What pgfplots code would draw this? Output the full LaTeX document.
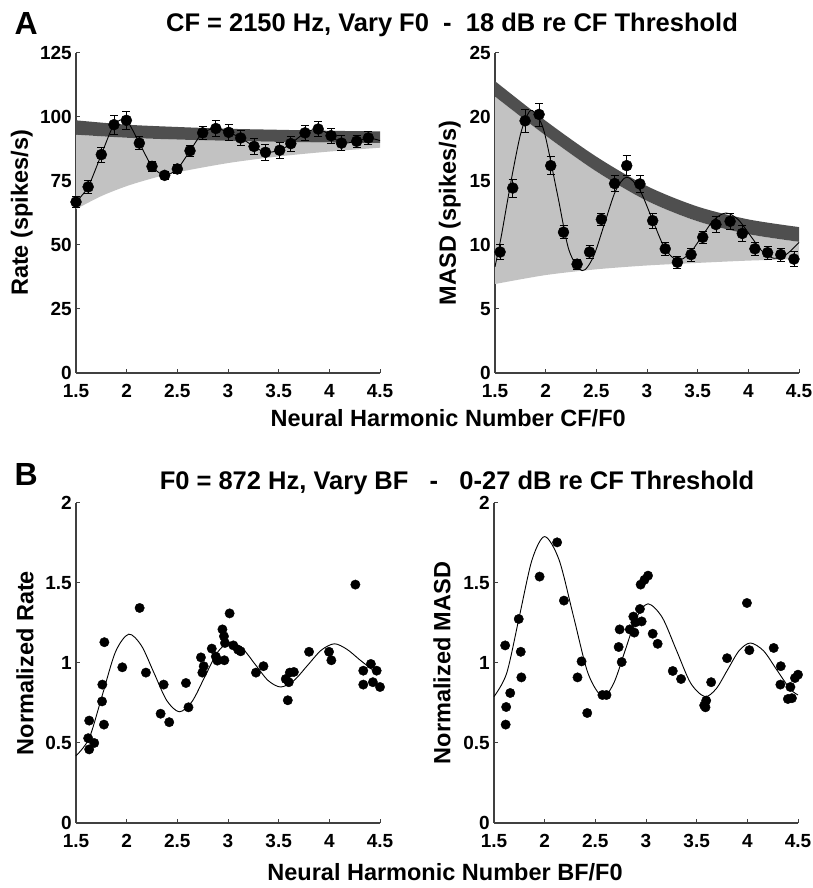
\documentclass[border=0pt]{standalone}
\usepackage{fontspec}
\setmainfont{Liberation Sans}
\usepackage{pgfplots}
\pgfplotsset{compat=1.18}
\usepgfplotslibrary{fillbetween}

\definecolor{banddark}{gray}{0.31}
\definecolor{bandlight}{gray}{0.76}
\definecolor{axisgray}{gray}{0.25}

\newcommand\tickfont{\fontsize{19}{22}\selectfont\bfseries}
\newcommand\labfont{\fontsize{23.5}{28}\selectfont\bfseries}
\newcommand\titfont{\fontsize{25.5}{30}\selectfont\bfseries}
\newcommand\panfont{\fontsize{32}{38}\selectfont\bfseries}

\pgfplotsset{
  panel/.style={
    scale only axis, width=304pt, height=320pt,
    axis x line*=bottom, axis y line*=left,
    axis line style={line width=1.2pt, axisgray, -},
    tick align=inside, major tick length=4pt, tick pos=left,
    tick style={line width=1pt, axisgray},
    xmin=1.5, xmax=4.5, ymin=0,
    xtick={1.5,2,2.5,3,3.5,4,4.5},
    tick label style={font=\tickfont, inner sep=0pt},
    /pgf/number format/assume math mode=true,
    xticklabel style={yshift=-11pt},
    yticklabel style={xshift=-4pt},
    label style={font=\labfont},
    clip=false,
  },
  dots/.style={only marks, mark=*, mark size=#1, black, mark options={fill=black}},
  fitline/.style={black, line width=0.9pt, smooth},
  ebar/.style={error bars/.cd, y dir=both, y explicit,
    error bar style={black, line width=0.8pt},
    error mark options={rotate=90, mark size=4pt, line width=0.8pt, black}},
}

\begin{document}
\begin{tikzpicture}
\path (0,0) rectangle (811pt,888pt);

% ---------- A: rate ----------
\begin{axis}[panel, at={(76pt,515pt)}, anchor=south west,
  ymax=125, ytick={0,25,50,75,100,125},
  ylabel={Rate (spikes/s)},
  ylabel style={at={(axis description cs:-0.178,0.5)}, anchor=center}]
  \addplot[name path=rL, draw=none, smooth, forget plot] coordinates {
    (1.5,64.0) (1.75,69.1) (2,73.0) (2.25,76.0) (2.5,78.4) (3,82.0) (3.5,84.6) (4,86.5) (4.5,88.0)};
  \addplot[name path=rB, draw=none, smooth, forget plot] coordinates {
    (1.5,93.1) (2,91.9) (2.5,91.2) (3,90.7) (3.5,90.3) (4,90.05) (4.5,89.85)};
  \addplot[name path=rT, draw=none, smooth, forget plot] coordinates {
    (1.5,98.7) (2,97.0) (2.5,96.1) (3,95.4) (3.5,95.0) (4,94.6) (4.5,94.4)};
  \addplot[bandlight, draw=none] fill between[of=rL and rB];
  \addplot[banddark, draw=none] fill between[of=rB and rT];
  \addplot[fitline, tension=0.45] coordinates {
    (1.5,66.8) (1.62,72.7) (1.75,85.3) (1.875,97.0) (1.997,98.7) (2.125,89.8)
    (2.25,80.7) (2.375,77.2) (2.5,79.7) (2.625,86.8) (2.75,93.8) (2.88,95.5)
    (3.007,94.0) (3.125,91.8) (3.257,88.5) (3.37,86.2) (3.51,87.0) (3.62,89.6)
    (3.76,93.8) (3.89,95.3) (4.017,92.7) (4.12,89.8) (4.27,90.5) (4.385,91.8) (4.5,90.8)};
  \addplot[dots=5.5pt, ebar] table[x index=0, y index=1, y error index=2] {
    1.5   66.8 2.0
    1.62  72.7 2.5
    1.75  85.3 3.0
    1.875 97.0 3.8
    1.997 98.7 3.5
    2.125 89.8 2.5
    2.25  80.7 2.0
    2.375 77.2 1.5
    2.5   79.7 1.8
    2.625 86.8 2.0
    2.75  93.8 2.5
    2.88  95.5 3.0
    3.007 94.0 3.0
    3.125 91.8 3.0
    3.257 88.5 3.0
    3.37  86.2 3.0
    3.51  87.0 3.0
    3.62  89.6 3.0
    3.76  93.8 3.0
    3.89  95.3 3.0
    4.017 92.7 3.0
    4.12  89.8 3.0
    4.27  90.5 2.5
    4.385 91.8 2.5
  };
\end{axis}

% ---------- A: MASD ----------
\begin{axis}[panel, at={(495pt,515pt)}, anchor=south west,
  ymax=25, ytick={0,5,10,15,20,25},
  ylabel={MASD (spikes/s)},
  ylabel style={at={(axis description cs:-0.149,0.5)}, anchor=center}]
  \addplot[name path=mL, draw=none, smooth, forget plot] coordinates {
    (1.5,6.95) (2,7.65) (2.5,8.1) (3,8.4) (3.5,8.6) (4,8.78) (4.5,8.9)};
  \addplot[name path=mB, draw=none, smooth, forget plot] coordinates {
    (1.5,21.6) (2,18.55) (2.5,15.75) (3,13.45) (3.5,11.85) (4,10.85) (4.5,10.25)};
  \addplot[name path=mT, draw=none, smooth, forget plot] coordinates {
    (1.5,22.8) (2,19.7) (2.5,16.9) (3,14.6) (3.5,13.0) (4,12.0) (4.5,11.4)};
  \addplot[bandlight, draw=none] fill between[of=mL and mB];
  \addplot[banddark, draw=none] fill between[of=mB and mT];
  \addplot[fitline] coordinates {
    (1.5,8.3) (1.56,10.6) (1.62,13.3) (1.68,15.9) (1.75,18.6) (1.81,20.0) (1.87,20.5)
    (1.98,19.0) (2.115,14.0) (2.23,9.6) (2.36,8.0) (2.47,9.07) (2.58,11.65)
    (2.69,14.23) (2.80,15.3) (2.925,14.35) (3.05,12.05) (3.175,9.75) (3.30,8.8)
    (3.42,9.34) (3.54,10.65) (3.66,11.96) (3.78,12.5) (3.90,11.98) (4.02,10.73)
    (4.14,9.48) (4.255,8.96) (4.38,9.3) (4.5,10.2)};
  \addplot[dots=5.5pt, ebar] table[x index=0, y index=1, y error index=2] {
    1.55  9.45 0.6
    1.675 14.45 0.7
    1.797 19.7 0.9
    1.935 20.2 0.9
    2.05  16.2 0.7
    2.176 11.0 0.5
    2.31  8.5  0.4
    2.433 9.45 0.5
    2.55  12.0 0.5
    2.68  14.8 0.6
    2.80  16.2 0.8
    2.93  14.77 0.7
    3.056 11.9 0.6
    3.18  9.7  0.5
    3.30  8.65 0.45
    3.435 9.25 0.5
    3.55  10.6 0.5
    3.68  11.6 0.6
    3.82  11.85 0.6
    3.94  10.9 0.6
    4.065 9.7  0.5
    4.19  9.4  0.5
    4.32  9.25 0.5
    4.45  8.9  0.6
  };
\end{axis}

% ---------- B: normalized rate ----------
\begin{axis}[panel, at={(76pt,65pt)}, anchor=south west,
  ymax=2, ytick={0,0.5,1,1.5,2},
  ylabel={Normalized Rate},
  ylabel style={at={(axis description cs:-0.168,0.5)}, anchor=center}]
  \addplot[fitline] coordinates {
    (1.5,0.42) (1.63,0.53) (1.76,0.80) (1.89,1.07) (2.02,1.18) (2.145,1.109)
    (2.27,0.9375) (2.395,0.766) (2.52,0.695) (2.645,0.759) (2.77,0.9125)
    (2.895,1.066) (3.02,1.13) (3.145,1.089) (3.27,0.99) (3.395,0.891) (3.52,0.85)
    (3.65,0.89) (3.785,0.985) (3.92,1.08) (4.05,1.12) (4.175,1.085) (4.3,1.02) (4.42,0.96)};
  \addplot[dots=4.7pt] coordinates {
    (1.62,0.53) (1.63,0.64) (1.63,0.46) (1.68,0.50) (1.76,0.865) (1.757,0.76)
    (1.776,0.615) (1.78,1.13) (1.957,0.973) (2.128,1.344) (2.19,0.94) (2.365,0.865)
    (2.335,0.683) (2.42,0.63) (2.585,0.875) (2.61,0.723) (2.733,1.035) (2.76,0.98)
    (2.747,0.94) (2.84,1.09) (2.88,1.04) (2.895,1.015) (2.945,1.21) (2.96,1.167)
    (2.97,1.125) (2.964,1.017) (3.016,1.31) (3.053,1.11) (3.1,1.083) (3.125,1.073)
    (3.276,0.94) (3.35,0.98) (3.57,0.90) (3.60,0.88) (3.59,0.767) (3.61,0.94)
    (3.65,0.944) (3.80,1.07) (3.997,1.07) (4.02,1.017) (4.257,1.49) (4.335,0.952)
    (4.335,0.865) (4.41,0.994) (4.43,0.88) (4.467,0.952) (4.5,0.85)};
\end{axis}

% ---------- B: normalized MASD ----------
\begin{axis}[panel, at={(494pt,65pt)}, anchor=south west,
  ymax=2, ytick={0,0.5,1,1.5,2},
  ylabel={Normalized MASD},
  ylabel style={at={(axis description cs:-0.171,0.5)}, anchor=center}]
  \addplot[fitline] coordinates {
    (1.5,0.79) (1.625,0.936) (1.75,1.29) (1.875,1.644) (2.0,1.79) (2.1425,1.644)
    (2.285,1.29) (2.4275,0.936) (2.57,0.79) (2.6825,0.875) (2.795,1.08)
    (2.9075,1.285) (3.02,1.37) (3.16,1.285) (3.30,1.08) (3.44,0.875) (3.58,0.79)
    (3.6925,0.839) (3.805,0.9575) (3.9175,1.076) (4.03,1.125) (4.16,1.076)
    (4.29,0.9575) (4.42,0.839) (4.5,0.80)};
  \addplot[dots=4.7pt] coordinates {
    (1.61,1.11) (1.62,0.725) (1.615,0.615) (1.66,0.8125) (1.744,1.275) (1.764,1.07)
    (1.77,0.91) (1.95,1.54) (2.123,1.754) (2.19,1.39) (2.324,0.91) (2.364,1.01)
    (2.42,0.6875) (2.57,0.80) (2.61,0.80) (2.73,1.10) (2.74,1.21) (2.76,1.006)
    (2.84,1.21) (2.875,1.29) (2.885,1.19) (2.895,1.254) (2.94,1.3375) (2.957,1.26)
    (2.947,1.49) (2.985,1.52) (3.02,1.546) (3.066,1.183) (3.115,1.12) (3.264,0.95)
    (3.346,0.90) (3.574,0.735) (3.594,0.765) (3.587,0.723) (3.643,0.88) (3.80,1.03)
    (3.996,1.375) (4.02,1.08) (4.26,1.094) (4.33,0.98) (4.326,0.865) (4.40,0.775)
    (4.425,0.85) (4.44,0.78) (4.47,0.906) (4.5,0.927)};
\end{axis}

% ---------- titles and shared labels ----------
\node[anchor=base west, font=\panfont] at (11pt,853pt) {A};
\node[anchor=base, font=\titfont] at (452pt,856pt) {CF = 2150 Hz, Vary F0\ \ -\ \ 18 dB re CF Threshold};
\node[anchor=base west, font=\labfont] at (267pt,461pt) {Neural Harmonic Number CF/F0};
\node[anchor=base west, font=\panfont] at (11pt,402pt) {B};
\node[anchor=base, font=\titfont] at (457pt,398pt) {F0 = 872 Hz, Vary BF\ \ \ -\ \ \ 0-27 dB re CF Threshold};
\node[anchor=base, font=\labfont] at (445pt,8pt) {Neural Harmonic Number BF/F0};
\end{tikzpicture}
\end{document}
